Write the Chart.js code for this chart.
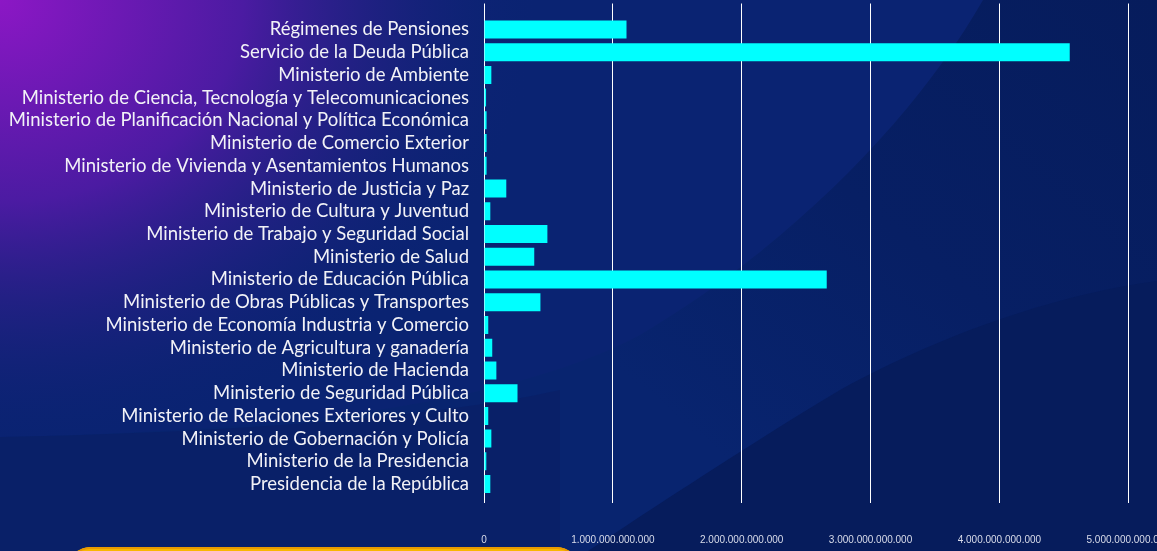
<!DOCTYPE html>
<html lang="es">
<head>
<meta charset="utf-8">
<title>Presupuesto por institución</title>
<script src="https://cdn.jsdelivr.net/npm/chart.js@4.4.1/dist/chart.umd.min.js"></script>
<style>
    html, body { margin: 0; padding: 0; width: 1157px; height: 551px; overflow: hidden; background: #0a2372; }
    #fondo { position: absolute; left: 0; top: 0; }
    #contenedor { position: absolute; left: 0; top: 0; width: 1157px; height: 551px; }
    #caja {
        position: absolute; left: 70px; top: 547px; width: 507px; height: 40px;
        border-radius: 20px; background: #f8b700; box-shadow: inset 0 2px 0 #e99a00;
    }
</style>
</head>
<body>
<svg id="fondo" width="1157" height="551" viewBox="0 0 1157 551">
    <defs>
        <radialGradient id="morado" gradientUnits="userSpaceOnUse" cx="0" cy="0" r="1"
                        gradientTransform="scale(540 450)">
            <stop offset="0" stop-color="#8c17c5"/>
            <stop offset="0.45" stop-color="#4b1ba2"/>
            <stop offset="1" stop-color="#0a2372" stop-opacity="0"/>
        </radialGradient>
        <linearGradient id="sombra" gradientUnits="userSpaceOnUse" x1="1157" y1="0" x2="750" y2="480">
            <stop offset="0" stop-color="#061c5c"/>
            <stop offset="0.55" stop-color="#071f64"/>
            <stop offset="1" stop-color="#08246f"/>
        </linearGradient>
    </defs>
    <rect width="1157" height="551" fill="#0a2372"/>
    <rect width="1157" height="551" fill="url(#morado)"/>
    <!-- formas onduladas del fondo -->
    <path d="M983,0 C920,110 800,240 640,335 C500,410 250,432 0,437 L0,551 L1157,551 L1157,0 Z" fill="url(#sombra)"/>
    <path d="M0,437 C250,432 450,415 560,390 L560,551 L0,551 Z" fill="#0a1f66" opacity="0.8"/>
    <path d="M1157,281 C1050,295 930,340 840,390 C740,450 650,510 588,551 L1157,551 Z" fill="#061c5c"/>
</svg>
<div id="contenedor"><canvas id="grafico"></canvas></div>
<div id="caja"></div>
<script>
// Instituciones (de arriba hacia abajo) y monto asignado en colones
const instituciones = [
    'Régimenes de Pensiones',
    'Servicio de la Deuda Pública',
    'Ministerio de Ambiente',
    'Ministerio de Ciencia, Tecnología y Telecomunicaciones',
    'Ministerio de Planificación Nacional y Política Económica',
    'Ministerio de Comercio Exterior',
    'Ministerio de Vivienda y Asentamientos Humanos',
    'Ministerio de Justicia y Paz',
    'Ministerio de Cultura y Juventud',
    'Ministerio de Trabajo y Seguridad Social',
    'Ministerio de Salud',
    'Ministerio de Educación Pública',
    'Ministerio de Obras Públicas y Transportes',
    'Ministerio de Economía Industria y Comercio',
    'Ministerio de Agricultura y ganadería',
    'Ministerio de Hacienda',
    'Ministerio de Seguridad Pública',
    'Ministerio de Relaciones Exteriores y Culto',
    'Ministerio de Gobernación y Policía',
    'Ministerio de la Presidencia',
    'Presidencia de la República'
];
const montos = [
    1106000000000, 4546000000000, 57000000000, 16000000000, 20000000000,
    20000000000, 20000000000, 173000000000, 49000000000, 492000000000,
    390000000000, 2660000000000, 438000000000, 33000000000, 64000000000,
    96000000000, 260000000000, 33000000000, 57000000000, 18000000000,
    49000000000
];
const marcasX = [0, 1e12, 2e12, 3e12, 4e12, 5e12];
const maxX = 5.2e12;

function formatoMiles(n) {
    return String(n).replace(/\B(?=(\d{3})+(?!\d))/g, '.');
}

const ctx = document.getElementById('grafico').getContext('2d');
const chart = new Chart(ctx, {
    type: 'bar',
    data: {
        datasets: [
            {
                label: 'Monto',
                data: montos.map((v, i) => ({ x: v, y: i })),
                backgroundColor: '#00ffff',
                borderWidth: 0,
                barPercentage: 0.88,
                categoryPercentage: 0.9
            }
        ]
    },
    options: {
        indexAxis: 'y',
        responsive: true,
        maintainAspectRatio: false,
        animation: false,
        layout: { padding: { top: 3, left: 0, right: 0, bottom: 0 } },
        plugins: {
            legend: { display: false },
            title: { display: false },
            tooltip: { enabled: false }
        },
        scales: {
            x: {
                type: 'linear',
                min: 0,
                max: maxX,
                border: { display: false },
                grid: {
                    lineWidth: 1,
                    drawTicks: true,
                    tickLength: 8,
                    color: (c) => marcasX.includes(c.tick.value) ? '#ffffff' : 'rgba(0,0,0,0)'
                },
                afterBuildTicks: function(scale) {
                    scale.ticks = marcasX.concat([maxX]).map(v => ({ value: v }));
                },
                afterFit: function(scale) { scale.height = 56; },
                ticks: {
                    autoSkip: false,
                    maxRotation: 0,
                    padding: 3,
                    color: '#d9dcea',
                    font: { family: 'Liberation Sans', size: 10, lineHeight: '68px' },
                    callback: function(value) {
                        return marcasX.includes(value) ? formatoMiles(value) : '';
                    }
                }
            },
            y: {
                type: 'linear',
                reverse: true,
                offset: false,
                min: -1.14,
                max: 20.48,
                border: { display: false },
                grid: { display: false, drawTicks: true, tickLength: 12 },
                afterBuildTicks: function(scale) {
                    scale.ticks = instituciones.map((n, i) => ({ value: i }));
                },
                afterFit: function(scale) { scale.width = 484; },
                ticks: {
                    autoSkip: false,
                    padding: 3,
                    color: '#f2f2f7',
                    font: { family: 'Lato', size: 18.5, lineHeight: '1px' },
                    callback: function(value) {
                        return instituciones[value] ?? '';
                    }
                }
            }
        }
    }
});
</script>
</body>
</html>
